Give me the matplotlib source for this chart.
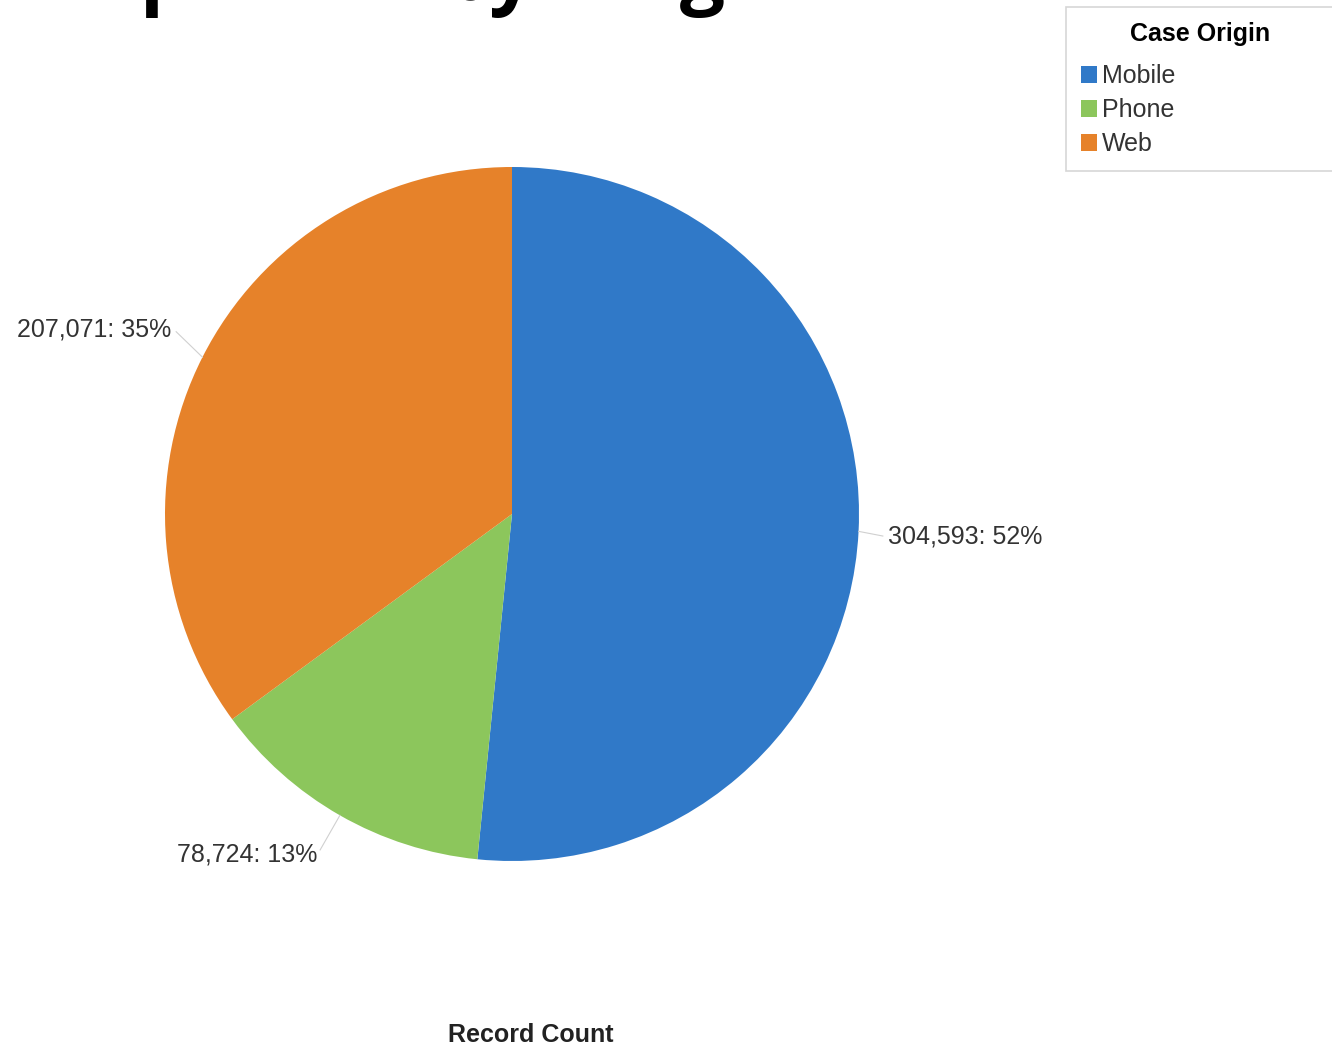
import matplotlib.pyplot as plt
from matplotlib.patches import Patch
import numpy as np

# data
origins = ['Mobile', 'Phone', 'Web']
counts = [304593, 78724, 207071]
colors = ['#3079c8', '#8cc65c', '#e6822a']
title = 'Responses by Origin'

plt.rcParams['font.family'] = ['Liberation Sans', 'DejaVu Sans']

W, H = 1332, 1047
fig = plt.figure(figsize=(W / 100, H / 100), dpi=100)
fig.patch.set_facecolor('white')

# pie centre / radius in pixels
cx, cy, r = 512, 514, 347
ax = fig.add_axes([(cx - r) / W, (H - cy - r) / H, 2 * r / W, 2 * r / H])

wedges, _ = ax.pie(counts, colors=colors, startangle=90, counterclock=False,
                   radius=1, wedgeprops=dict(linewidth=0))
ax.set_xlim(-1, 1)
ax.set_ylim(-1, 1)
ax.axis('off')

# label distance / small vertical nudge per slice
label_r = [1.085, 1.13, 1.1]
label_dy = [-0.01, 0, 0.035]

total = sum(counts)
for w, v, lr, dy in zip(wedges, counts, label_r, label_dy):
    ang = np.deg2rad((w.theta1 + w.theta2) / 2)
    ux, uy = np.cos(ang), np.sin(ang)
    pct = round(v / total * 100)
    ha = 'left' if ux > 0 else 'right'
    ax.plot([1.0 * ux, (lr - 0.015) * ux], [1.0 * uy, (lr - 0.015) * uy + dy],
            color='#d0d0d0', lw=0.8, clip_on=False)
    ax.text(lr * ux, lr * uy + dy, f'{v:,}: {pct}%', ha=ha, va='center',
            fontsize=18, color='#333333', clip_on=False)

# title, mostly cut off at the top of the picture
# size it so the descenders of p / y / g fall where they do in the original
renderer = fig.canvas.get_renderer()
def width_of(s, size):
    t = fig.text(0, 0, s, fontsize=size, fontweight='bold', family='Open Sans')
    wpx = t.get_window_extent(renderer).width
    t.remove()
    return wpx

size = 60
size = size * 540 / (width_of('Responses by Ori', size) - width_of('Res', size))
x0 = 140 - width_of('Res', size)
fig.text(x0 / W, 1 + 1 / H, title, fontsize=size, fontweight='bold',
         family='Open Sans', va='baseline', ha='left', color='black')

fig.text(531 / W, 1 - 1035 / H, 'Record Count', fontsize=18, fontweight='bold',
         ha='center', va='center', color='#222222')

handles = [Patch(facecolor=c, edgecolor='none') for c in colors]
leg = fig.legend(handles, origins, title='Case Origin', loc='upper left',
                 bbox_to_anchor=(1066 / W, 1 - 8 / H, 268 / W, 0.001),
                 mode='expand', frameon=True, fontsize=18,
                 title_fontproperties={'weight': 'bold', 'size': 18},
                 handlelength=0.65, handleheight=0.65, handletextpad=0.2,
                 labelspacing=0.4, borderaxespad=0, borderpad=0.6,
                 fancybox=False)
leg._legend_box.sep = 13
leg.get_frame().set_edgecolor('#cccccc')
leg.get_frame().set_linewidth(1.2)
for t in leg.get_texts():
    t.set_color('#333333')

fig.savefig('out.png', dpi=100, facecolor='white')
